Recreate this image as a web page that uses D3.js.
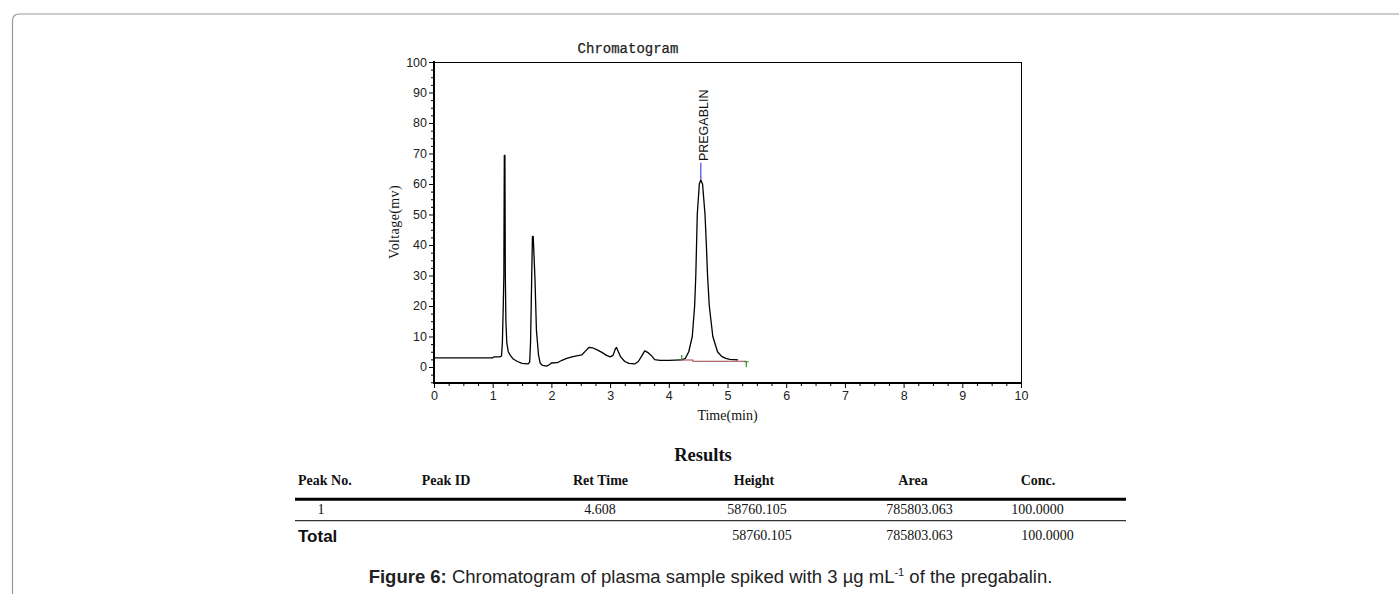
<!DOCTYPE html>
<html>
<head>
<meta charset="utf-8">
<script src="https://cdn.jsdelivr.net/npm/d3@7"></script>
<style>
  html, body { margin: 0; padding: 0; background: #fff; }
  svg { display: block; }
</style>
</head>
<body>
<svg id="chart" width="1399" height="594"></svg>
<script>
// ---------------- DATA ----------------
const traceTime = [0, 1.0, 1.02, 1.12, 1.15, 1.165, 1.18, 1.19, 1.198, 1.208, 1.215, 1.225, 1.24, 1.265, 1.3, 1.35, 1.42, 1.5, 1.6,
  1.63, 1.645, 1.664, 1.677, 1.69, 1.72, 1.745, 1.78, 1.81, 1.85, 1.92, 1.97, 2.0, 2.1, 2.18, 2.26, 2.35, 2.45, 2.52, 2.58, 2.64, 2.7,
  2.78, 2.86, 2.94, 3.0, 3.05, 3.09, 3.11, 3.14, 3.18, 3.25, 3.32, 3.42, 3.48, 3.53, 3.59, 3.64, 3.7, 3.76, 3.85, 4.0, 4.22,
  4.28, 4.34, 4.40, 4.44, 4.46, 4.485, 4.52, 4.545, 4.575, 4.617, 4.64, 4.66, 4.69, 4.75, 4.83, 4.9, 4.97, 5.04, 5.18];
const traceMv = [3.0, 3.0, 3.3, 3.3, 3.6, 8, 20, 30, 69.4, 69.4, 30, 15, 8, 5, 3.8, 2.6, 1.8, 1.2, 1.0,
  1.6, 8, 29, 42.8, 42.8, 29, 12, 4, 1.2, 0.5, 0.3, 0.8, 1.3, 1.4, 2.2, 2.8, 3.3, 3.7, 4.0, 5.2, 6.4, 6.3,
  5.6, 4.8, 3.8, 3.3, 3.8, 6.0, 6.4, 5.0, 3.3, 1.8, 1.2, 1.0, 1.8, 3.3, 5.3, 4.8, 3.8, 2.4, 2.2, 2.2, 2.3,
  2.8, 5, 10, 20, 30, 50, 60, 61.3, 60, 50, 40, 30, 20, 10, 5, 3.5, 2.8, 2.5, 2.3];

const peakName = "PREGABLIN";
const peakTime = 4.545;
const peakTop = 61.3;
const labelBase = 67.5;
const baselineTime = [4.22, 4.41, 4.41, 5.32];
const baselineMv = [2.3, 2.3, 1.87, 1.87];

const xTicks = [0, 1, 2, 3, 4, 5, 6, 7, 8, 9, 10];
const yTicks = [0, 10, 20, 30, 40, 50, 60, 70, 80, 90, 100];

const tableTitle = "Results";
const headers = ["Peak No.", "Peak ID", "Ret Time", "Height", "Area", "Conc."];
const row1 = ["1", "", "4.608", "58760.105", "785803.063", "100.0000"];
const totalRow = ["Total", "", "", "58760.105", "785803.063", "100.0000"];

// ---------------- DRAW ----------------
const svg = d3.select("#chart");

// page border
svg.append("rect").attr("x", 12.5).attr("y", 14).attr("width", 1420).attr("height", 620)
  .attr("rx", 6).attr("fill", "none").attr("stroke", "#999").attr("stroke-width", 1.2);

const L = 434, R = 1021, T = 62, B = 383;
const x = d3.scaleLinear().domain([0, 10]).range([L, R]);
const y = d3.scaleLinear().domain([-5.25, 100]).range([B, T]);

// frame
svg.append("line").attr("x1", L).attr("x2", R).attr("y1", T + 0.5).attr("y2", T + 0.5).attr("stroke", "#000").attr("stroke-width", 1);
svg.append("line").attr("x1", R + 0.5).attr("x2", R + 0.5).attr("y1", T).attr("y2", B).attr("stroke", "#000").attr("stroke-width", 1);

const tickFont = "Arial, 'Liberation Sans', sans-serif";

// x axis
const xAxis = d3.axisBottom(x).tickValues(xTicks).tickFormat(d3.format("d")).tickSize(5).tickPadding(3);
const gx = svg.append("g").attr("transform", `translate(0,${B})`).call(xAxis);
gx.select(".domain").attr("stroke-width", 2).attr("d", `M${L - 1},0H${R + 1}`);
gx.selectAll("text").attr("font-family", tickFont).attr("font-size", 12.5).attr("fill", "#222");
const xMinor = d3.range(0, 10.001, 0.25).filter(v => Math.abs(v - Math.round(v)) > 1e-6);
const gxm = svg.append("g").attr("transform", `translate(0,${B})`)
  .call(d3.axisBottom(x).tickValues(xMinor).tickSize(3).tickFormat(""));
gxm.select(".domain").remove();

// y axis
const yAxis = d3.axisLeft(y).tickValues(yTicks).tickFormat(d3.format("d")).tickSize(5).tickPadding(2);
const gy = svg.append("g").attr("transform", `translate(${L},0)`).call(yAxis);
gy.select(".domain").attr("stroke-width", 2).attr("d", `M0,${B + 1}V${T - 1}`);
gy.selectAll("text").attr("font-family", tickFont).attr("font-size", 12.5).attr("fill", "#222");
const yMinor = d3.range(-5, 100.001, 2.5).filter(v => Math.abs(v / 10 - Math.round(v / 10)) > 1e-6);
const gym = svg.append("g").attr("transform", `translate(${L},0)`)
  .call(d3.axisLeft(y).tickValues(yMinor).tickSize(3).tickFormat(""));
gym.select(".domain").remove();

// titles
svg.append("text").attr("x", 628).attr("y", 53).attr("text-anchor", "middle")
  .attr("font-family", "'Liberation Mono', 'DejaVu Sans Mono', monospace").attr("font-size", 14)
  .attr("stroke", "#222").attr("stroke-width", 0.25)
  .attr("fill", "#222").text("Chromatogram");
svg.append("text").attr("x", (L + R) / 2).attr("y", 420).attr("text-anchor", "middle")
  .attr("font-family", "'Liberation Serif', 'Times New Roman', serif").attr("font-size", 14)
  .attr("fill", "#111").text("Time(min)");
svg.append("text").attr("transform", "translate(399,222) rotate(-90)").attr("text-anchor", "middle")
  .attr("font-family", "'Liberation Serif', 'Times New Roman', serif").attr("font-size", 14)
  .attr("letter-spacing", 0.4).attr("fill", "#111").text("Voltage(mv)");

// trace
const pts = traceTime.map((t, i) => [t, traceMv[i]]);
const line = d3.line().x(d => x(d[0])).y(d => y(d[1]));
svg.append("path").datum(pts).attr("d", line).attr("fill", "none")
  .attr("stroke", "#000").attr("stroke-width", 1.3).attr("stroke-linejoin", "round");

// integration baseline
const bpts = baselineTime.map((t, i) => [t, baselineMv[i]]);
svg.append("path").datum(bpts).attr("d", line).attr("fill", "none")
  .attr("stroke", "#a04646").attr("stroke-width", 1.1);
// start / end markers (green)
svg.append("line").attr("x1", x(baselineTime[0])).attr("x2", x(baselineTime[0]))
  .attr("y1", y(baselineMv[0])).attr("y2", y(baselineMv[0]) - 5).attr("stroke", "#2f8f2f").attr("stroke-width", 1.2);
const ex = x(baselineTime[3]), ey = y(baselineMv[3]);
svg.append("line").attr("x1", ex).attr("x2", ex).attr("y1", ey).attr("y2", ey + 6).attr("stroke", "#2f8f2f").attr("stroke-width", 1.2);
svg.append("line").attr("x1", ex - 2.5).attr("x2", ex + 2.5).attr("y1", ey + 0.5).attr("y2", ey + 0.5).attr("stroke", "#2f8f2f").attr("stroke-width", 1);

// peak marker + label
svg.append("line").attr("x1", x(peakTime)).attr("x2", x(peakTime))
  .attr("y1", y(peakTop)).attr("y2", y(labelBase - 0.5)).attr("stroke", "#5555ee").attr("stroke-width", 1.3);
svg.append("text").attr("transform", `translate(${x(peakTime) + 7},${y(labelBase)}) rotate(-90)`)
  .attr("font-family", tickFont).attr("font-size", 12.5).attr("fill", "#111").text(peakName);

// ---------------- TABLE ----------------
const serif = "'Liberation Serif', 'Times New Roman', serif";
svg.append("text").attr("x", 703).attr("y", 461).attr("text-anchor", "middle")
  .attr("font-family", serif).attr("font-weight", "bold").attr("font-size", 18.5).attr("fill", "#111").text(tableTitle);

const headX = [298, 446, 600.5, 754, 913, 1038];
const headAnchor = ["start", "middle", "middle", "middle", "middle", "middle"];
headers.forEach((h, i) => {
  svg.append("text").attr("x", headX[i]).attr("y", 485).attr("text-anchor", headAnchor[i])
    .attr("font-family", serif).attr("font-weight", "bold").attr("font-size", 14).attr("fill", "#111").text(h);
});
svg.append("line").attr("x1", 295).attr("x2", 1126).attr("y1", 499.3).attr("y2", 499.3).attr("stroke", "#000").attr("stroke-width", 3);

const row1X = [321, 446, 600, 757, 919.5, 1037.5];
row1.forEach((v, i) => {
  if (!v) return;
  svg.append("text").attr("x", row1X[i]).attr("y", 514).attr("text-anchor", "middle")
    .attr("font-family", serif).attr("font-size", 14).attr("fill", "#111").text(v);
});
svg.append("line").attr("x1", 295).attr("x2", 1126).attr("y1", 520.7).attr("y2", 520.7).attr("stroke", "#333").attr("stroke-width", 1.2);

const totX = [298, 446, 600, 762, 919.5, 1047.5];
totalRow.forEach((v, i) => {
  if (!v) return;
  if (i === 0) {
    svg.append("text").attr("x", totX[i]).attr("y", 542).attr("text-anchor", "start")
      .attr("font-family", tickFont).attr("font-weight", "bold").attr("font-size", 17).attr("fill", "#111").text(v);
  } else {
    svg.append("text").attr("x", totX[i]).attr("y", 540).attr("text-anchor", "middle")
      .attr("font-family", serif).attr("font-size", 14).attr("fill", "#111").text(v);
  }
});

// ---------------- CAPTION ----------------
const cap = svg.append("text").attr("x", 710.5).attr("y", 583).attr("text-anchor", "middle")
  .attr("font-family", tickFont).attr("font-size", 18.5).attr("fill", "#222");
cap.append("tspan").attr("font-weight", "bold").text("Figure 6:");
cap.append("tspan").text(" Chromatogram of plasma sample spiked with 3 µg mL");
cap.append("tspan").attr("font-size", 11).attr("dy", -7).text("-1");
cap.append("tspan").attr("dy", 7).text(" of the pregabalin.");
</script>
</body>
</html>
